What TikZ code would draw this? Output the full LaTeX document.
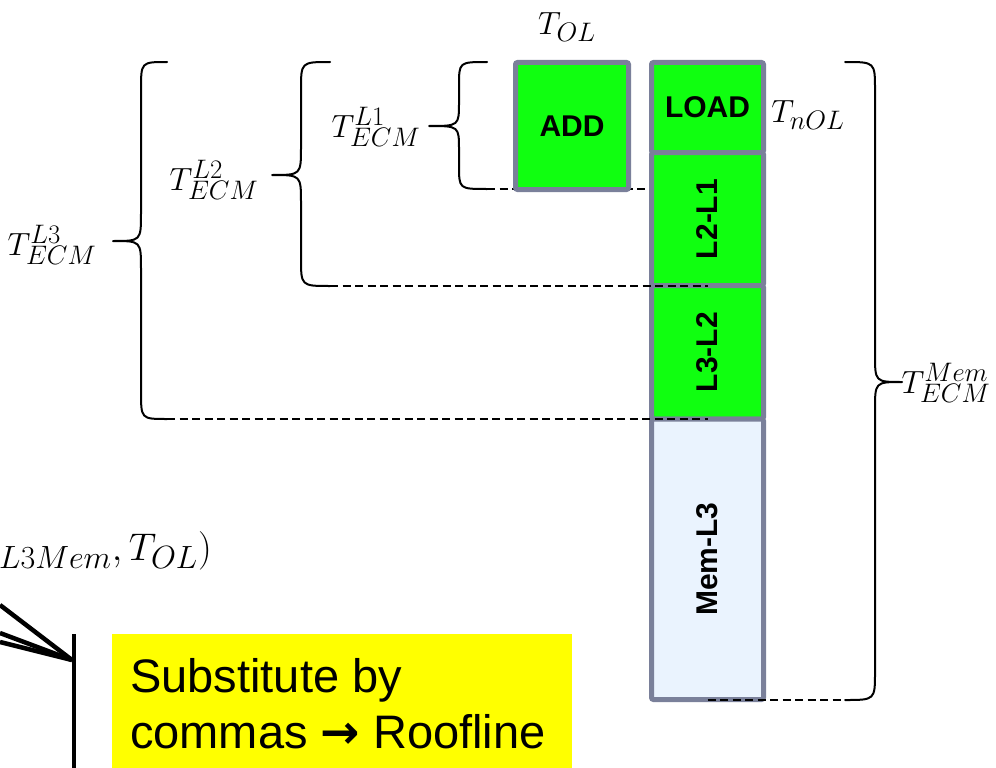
\documentclass[tikz,border=0pt]{standalone}
\usepackage{fontspec}
\newfontfamily\arial{Liberation Sans}
\newfontfamily\dejavu{DejaVu Sans}
\usetikzlibrary{backgrounds}

\definecolor{boxgreen}{RGB}{16,255,16}
\definecolor{boxgray}{RGB}{122,128,154}
\definecolor{memblue}{RGB}{234,243,254}
\definecolor{noteyellow}{RGB}{255,255,0}

% curly brace: end x, spine x, tip x, top y, middle y, bottom y, hook size
\newcommand{\curlybrace}[7]{%
  \draw[bracestroke] (#1,#4) .. controls (#2,#4) .. (#2,#4+#7)
    -- (#2,#5-#7) .. controls (#2,#5) .. (#3,#5)
    .. controls (#2,#5) .. (#2,#5+#7)
    -- (#2,#6-#7) .. controls (#2,#6) .. (#1,#6);}

% large math: set at 24.88pt and scaled up
\newcommand{\bigmath}[2]{\scalebox{#1}{\fontsize{24.88}{30}\selectfont$#2$}}

\tikzset{
  blk/.style={draw=boxgray, line width=5pt, rounded corners=2pt, fill=boxgreen,
    inner sep=0pt, font=\arial\bfseries\fontsize{30}{36}\selectfont},
  memblk/.style={blk, fill=memblue},
  mlabel/.style={inner sep=0pt},
  bracestroke/.style={line width=2pt, line join=round, line cap=round},
  guide/.style={line width=2pt, dash pattern=on 8pt off 4.5pt},
  callout/.style={line width=4.5pt},
  notetext/.style={inner sep=0pt, font=\arial\fontsize{47}{56}\selectfont}
}

\begin{document}
\begin{tikzpicture}[x=1pt,y=-1pt]
\useasboundingbox (0,0) rectangle (996,768);

% stacked transfer times
\node[blk, minimum width=113, minimum height=127] (add) at (572,126) {ADD};
\node[blk, minimum width=112, minimum height=90] (load) at (707.5,107.5) {LOAD};
\node[blk, minimum width=112, minimum height=133] (l21) at (707.5,219) {\rotatebox{90}{L2-L1}};
\node[blk, minimum width=112, minimum height=133.5] (l32) at (707.5,352.25) {\rotatebox{90}{L3-L2}};
\node[memblk, minimum width=112, minimum height=280.5] (mem) at (707.5,559.25) {\rotatebox{90}{Mem-L3}};

% brace end points
\coordinate (b1end) at (487,189);
\coordinate (b2end) at (330,286);
\coordinate (b3end) at (167,419);
\coordinate (bmend) at (845,700);

% braces
\curlybrace{487}{459}{429}{62}{126}{189}{24}
\curlybrace{330}{301}{272}{62}{175}{286}{28}
\curlybrace{167}{141}{113}{62}{241}{419}{28}
\curlybrace{845}{875}{902}{62}{382}{700}{28}

% dashed guides from the braces to the column
\begin{scope}[on background layer]
  \draw[guide] (b1end) -- (b1end -| l21.west);
\end{scope}
\draw[guide] (b2end) -- (b2end -| l21.south);
\draw[guide] (b3end) -- (b3end -| l32.south);
\draw[guide] (bmend -| mem.south) -- (bmend);

% labels
\node[mlabel] (tol) at (567,27) {\bigmath{1.29}{T_{OL}}};
\node[mlabel] (tnol) at (808,115) {\bigmath{1.29}{T_{nOL}}};
\node[mlabel] (tl1) at (376,127) {\bigmath{1.29}{T_{ECM}^{L1}}};
\node[mlabel] (tl2) at (214,180) {\bigmath{1.29}{T_{ECM}^{L2}}};
\node[mlabel] (tl3) at (52,245) {\bigmath{1.29}{T_{ECM}^{L3}}};
\node[mlabel] (tmem) at (946,383) {\bigmath{1.29}{T_{ECM}^{Mem}}};

% formula running in from the left
\node[mlabel, anchor=base east] (formula) at (212,560) {\bigmath{1.55}{{}_{L3Mem},T_{OL})}};

% callout lines
\coordinate (hub) at (72,660);
\coordinate (lna) at (0,605);
\coordinate (lnb) at (0,633);
\coordinate (lnc) at (0,642);
\coordinate (vtop) at (74,634);
\coordinate (vbot) at (74,768);
\draw[callout] (lna) -- (hub);
\draw[callout] (lnb) -- (hub);
\draw[callout] (lnc) -- (hub);
\draw[callout] (vtop) -- (vbot);

% note
\node[fill=noteyellow, inner sep=0pt, minimum width=460, minimum height=140, anchor=north west] (note) at (112,634) {};
\node[notetext, anchor=base west] (note1) at (130,692) {Substitute by};
\node[notetext, anchor=base west] (note2) at (130,748) {commas {\dejavu\bfseries →} Roofline};
\end{tikzpicture}
\end{document}
